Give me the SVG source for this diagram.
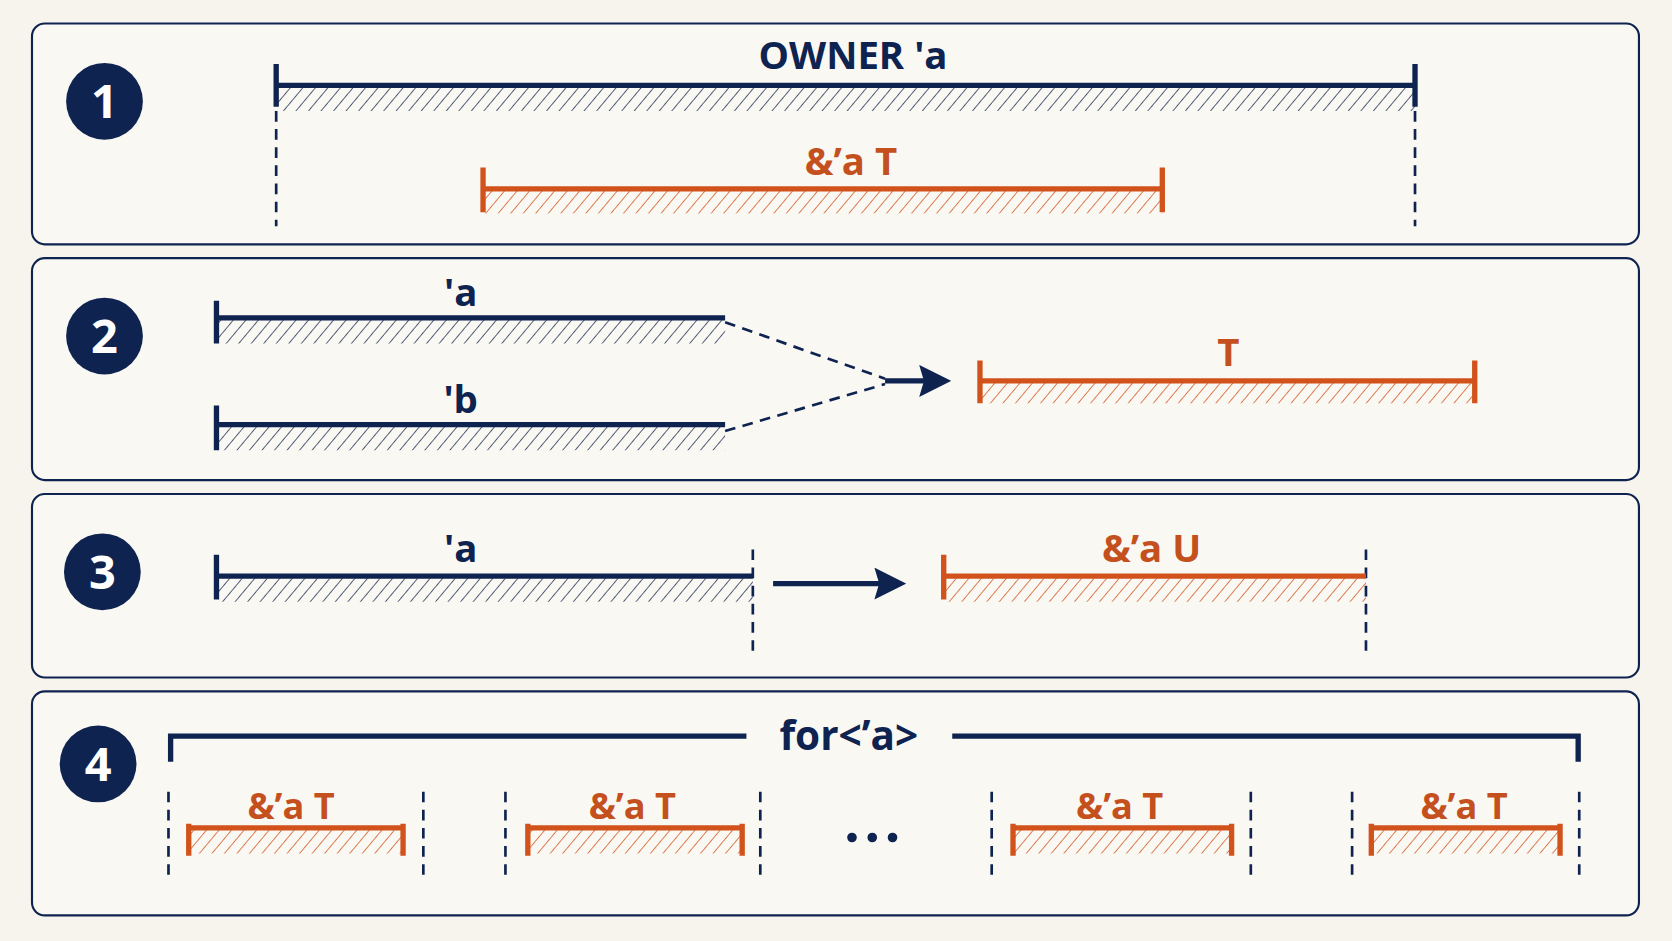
<svg xmlns="http://www.w3.org/2000/svg" width="1672" height="941" viewBox="0 0 1672 941">
<defs>
<pattern id="hn" patternUnits="userSpaceOnUse" width="9" height="9" patternTransform="rotate(40)"><line x1="0" y1="0" x2="0" y2="9" stroke="#1a2a50" stroke-width="1.4"/></pattern>
<pattern id="ho" patternUnits="userSpaceOnUse" width="9" height="9" patternTransform="rotate(40)"><line x1="0" y1="0" x2="0" y2="9" stroke="#d2521c" stroke-width="1.4"/></pattern>
<marker id="ah" viewBox="0 0 10 10" refX="6" refY="5" markerWidth="6" markerHeight="6" orient="auto" markerUnits="strokeWidth"><path d="M0,0 L10,5 L0,10 L1.5,5 Z" fill="#0f2350"/></marker>
</defs>
<style>
.panel{fill:#faf8f3;stroke:#0f2350;stroke-width:2}
.nb{stroke:#0f2350;stroke-width:5;fill:none}
.ob{stroke:#d2521c;stroke-width:5;fill:none}
.dash{stroke:#0f2350;stroke-width:2.5;stroke-dasharray:10 7;fill:none}
.tn{font-family:"Open Sans","Liberation Sans",sans-serif;font-weight:bold;fill:#0f2350;text-anchor:middle}
.to{font-family:"Open Sans","Liberation Sans",sans-serif;font-weight:bold;fill:#c4501e;text-anchor:middle}
.num{font-family:"Open Sans","Liberation Sans",sans-serif;font-weight:bold;fill:#fff;text-anchor:middle;font-size:44px}
</style>
<rect width="1672" height="941" fill="#f7f4ee"/>
<g transform="scale(1.06633 1.06689)">
<g id="panel1">
<rect class="panel" x="30" y="22" width="1507" height="207" rx="12"/>
<circle cx="98" cy="95" r="36" fill="#0f2350"/><text class="num" x="98" y="111">1</text>
<rect x="259" y="82" width="1068" height="22" fill="url(#hn)"/>
<path class="nb" d="M259,60 V100 M259,80 H1327 M1327,60 V100"/>
<text class="tn" x="800" y="65" font-size="36">OWNER 'a</text>
<path class="dash" d="M259,104 V212 M1327,104 V212"/>
<rect x="453" y="179" width="637" height="21" fill="url(#ho)"/>
<path class="ob" d="M453,157 V199 M453,177 H1090 M1090,157 V199"/>
<text class="to" x="798" y="164" font-size="36">&amp;’a T</text>
</g>
<g id="panel2">
<rect class="panel" x="30" y="242" width="1507" height="208" rx="12"/>
<circle cx="98" cy="315" r="36" fill="#0f2350"/><text class="num" x="98" y="331">2</text>
<rect x="203" y="300" width="477" height="22" fill="url(#hn)"/>
<path class="nb" d="M203,282 V322 M203,298 H680"/>
<text class="tn" x="432" y="287" font-size="36">'a</text>
<rect x="203" y="400" width="477" height="22" fill="url(#hn)"/>
<path class="nb" d="M203,380 V422 M203,398 H680"/>
<text class="tn" x="432" y="387" font-size="36">'b</text>
<rect x="919" y="359" width="464" height="19" fill="url(#ho)"/>
<path class="ob" d="M919,338 V378 M919,357 H1383 M1383,338 V378"/>
<text class="to" x="1152" y="343" font-size="36">T</text>
</g>
<g id="panel3">
<rect class="panel" x="30" y="463" width="1507" height="172" rx="12"/>
<circle cx="96" cy="536" r="36" fill="#0f2350"/><text class="num" x="96" y="552">3</text>
<rect x="203" y="542" width="503" height="22" fill="url(#hn)"/>
<path class="nb" d="M203,520 V562 M203,540 H706"/>
<text class="tn" x="432" y="527" font-size="36">'a</text>
<path class="dash" d="M706,515 V612 M1281,515 V612"/>
<rect x="885" y="542" width="396" height="22" fill="url(#ho)"/>
<path class="ob" d="M885,520 V562 M885,540 H1281"/>
<text class="to" x="1080" y="527" font-size="36">&amp;’a U</text>
</g>
<g id="panel4">
<rect class="panel" x="30" y="648" width="1507" height="210" rx="12"/>
<circle cx="92" cy="716" r="36" fill="#0f2350"/><text class="num" x="92" y="732">4</text>
<path class="nb" d="M160,714 V690 H700 M893,690 H1480 V714"/>
<text class="tn" x="796" y="703" font-size="38">for&lt;’a&gt;</text>
<path class="dash" d="M158,742 V825 M397,742 V825 M474,742 V825 M713,742 V825 M930,742 V825 M1173,742 V825 M1268,742 V825 M1481,742 V825"/>
<rect x="177" y="776" width="201" height="24" fill="url(#ho)"/>
<path class="ob" d="M177,772 V802 M177,776 H378 M378,772 V802" stroke="#e8601e"/>
<text class="to" x="273" y="768" font-size="34">&amp;’a T</text>
<rect x="495" y="776" width="201" height="24" fill="url(#ho)"/>
<path class="ob" d="M495,772 V802 M495,776 H696 M696,772 V802" stroke="#e8601e"/>
<text class="to" x="593" y="768" font-size="34">&amp;’a T</text>
<rect x="950" y="776" width="205" height="24" fill="url(#ho)"/>
<path class="ob" d="M950,772 V802 M950,776 H1155 M1155,772 V802" stroke="#e8601e"/>
<text class="to" x="1050" y="768" font-size="34">&amp;’a T</text>
<rect x="1286" y="776" width="177" height="24" fill="url(#ho)"/>
<path class="ob" d="M1286,772 V802 M1286,776 H1463 M1463,772 V802" stroke="#e8601e"/>
<text class="to" x="1373" y="768" font-size="34">&amp;’a T</text>
<g fill="#0f2350"><circle cx="799" cy="785" r="4.5"/><circle cx="818" cy="785" r="4.5"/><circle cx="837" cy="785" r="4.5"/></g>
</g>
</g>
<g id="connectors" transform="scale(1.06633 1.06689)">
<path class="dash" d="M680,302 L830,355 M680,404 L830,360"/>
<path d="M830,357 H880" stroke="#0f2350" stroke-width="5" marker-end="url(#ah)"/>
<path d="M725,547 H838" stroke="#0f2350" stroke-width="5" marker-end="url(#ah)"/>
</g>
</svg>
